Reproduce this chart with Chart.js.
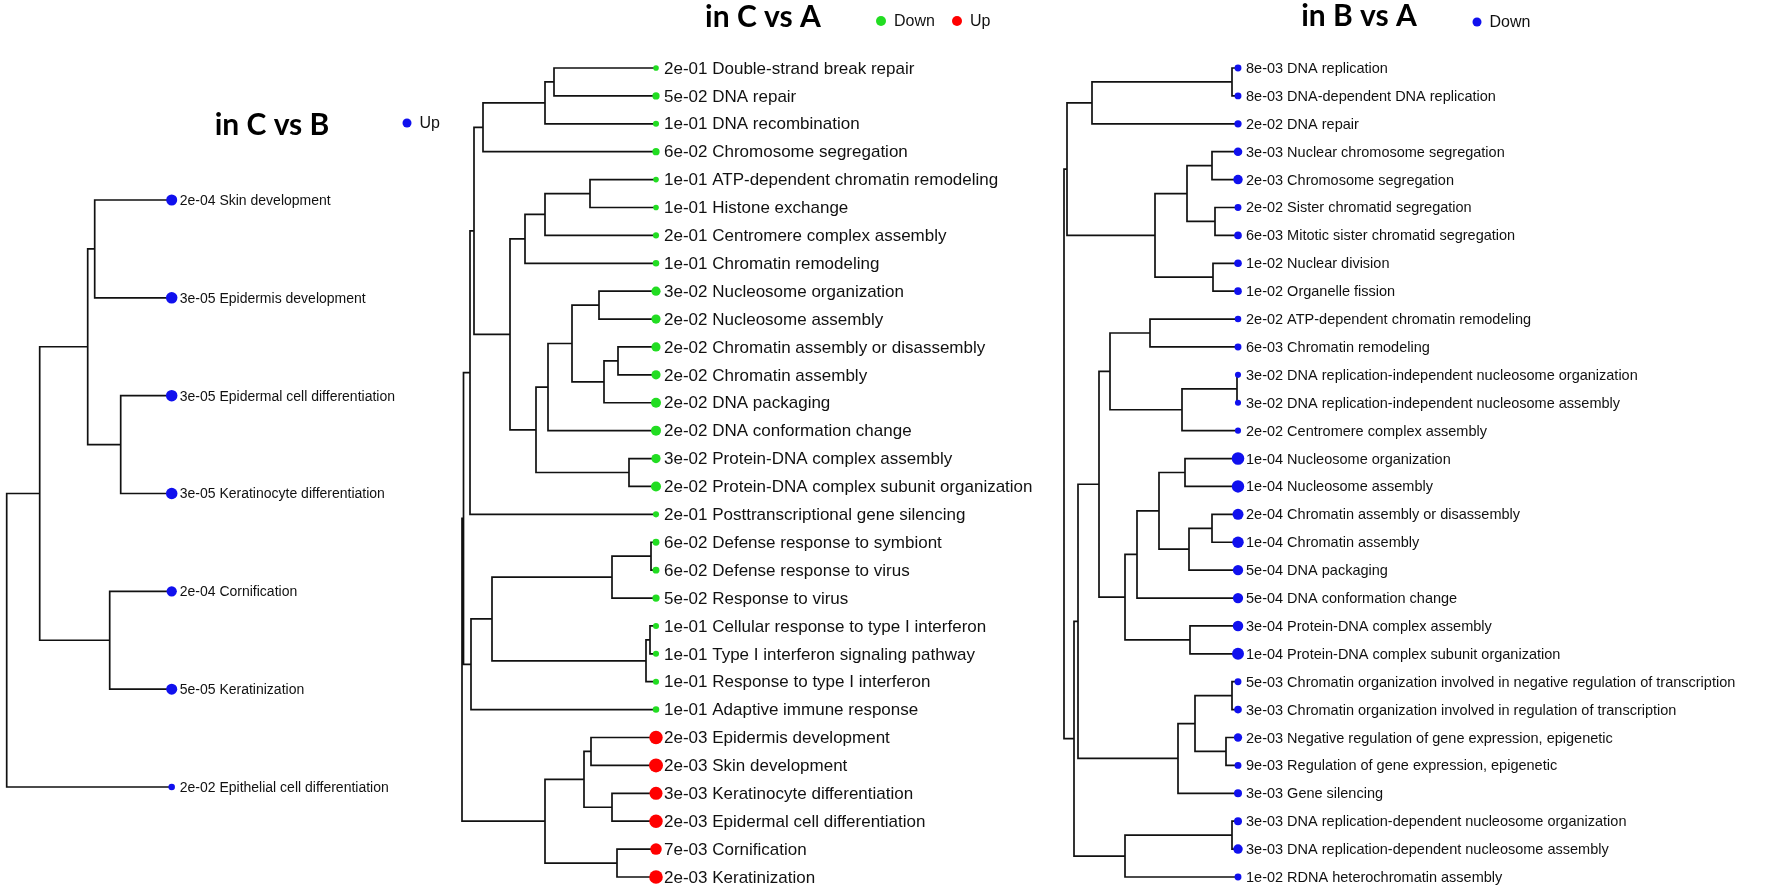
<!DOCTYPE html>
<html>
<head>
<meta charset="utf-8">
<script src="https://cdn.jsdelivr.net/npm/chart.js@4.4.1/dist/chart.umd.min.js"></script>
<style>
html,body{margin:0;padding:0;background:#fff;}
#wrap{position:relative;width:1768px;height:894px;overflow:hidden;background:#fff;}
canvas{position:absolute;top:0;}
</style>
</head>
<body>
<div id="wrap">
<canvas id="c1"></canvas>
<canvas id="c2"></canvas>
<canvas id="c3"></canvas>
</div>
<script>
// ---- in C vs B ----
const termsCB=["Skin development","Epidermis development","Epidermal cell differentiation","Keratinocyte differentiation","Cornification","Keratinization","Epithelial cell differentiation"];
const pvalCB=["2e-04","3e-05","3e-05","3e-05","2e-04","5e-05","2e-02"];
const dirCB=["Up","Up","Up","Up","Up","Up","Up"];
const genesCB=[23,25,25,25,20,23,8];
// hclust style merges: negative = leaf (1-based), positive = earlier merge; third value = height
const mergeCB=[[-1,-2,77],[-3,-4,51],[1,2,84],[-5,-6,62],[3,4,132],[5,-7,165]];

// ---- in C vs A ----
const termsCA=["Double-strand break repair","DNA repair","DNA recombination","Chromosome segregation",
"ATP-dependent chromatin remodeling","Histone exchange","Centromere complex assembly","Chromatin remodeling",
"Nucleosome organization","Nucleosome assembly","Chromatin assembly or disassembly","Chromatin assembly",
"DNA packaging","DNA conformation change","Protein-DNA complex assembly","Protein-DNA complex subunit organization",
"Posttranscriptional gene silencing","Defense response to symbiont","Defense response to virus","Response to virus",
"Cellular response to type I interferon","Type I interferon signaling pathway","Response to type I interferon","Adaptive immune response",
"Epidermis development","Skin development","Keratinocyte differentiation","Epidermal cell differentiation","Cornification","Keratinization"];
const pvalCA=["2e-01","5e-02","1e-01","6e-02","1e-01","1e-01","2e-01","1e-01","3e-02","2e-02","2e-02","2e-02","2e-02","2e-02","3e-02","2e-02",
"2e-01","6e-02","6e-02","5e-02","1e-01","1e-01","1e-01","1e-01","2e-03","2e-03","3e-03","2e-03","7e-03","2e-03"];
const dirCA=["Down","Down","Down","Down","Down","Down","Down","Down","Down","Down","Down","Down","Down","Down","Down","Down",
"Down","Down","Down","Down","Down","Down","Down","Down","Up","Up","Up","Up","Up","Up"];
const genesCA=[6,10,7,10,6,6,7,8,16,16,16,16,19,19,16,19,7,9,9,10,7,7,7,8,34,37,32,34,25,35];
const mergeCA=[[-1,-2,102],[1,-3,111],[2,-4,173],[-5,-6,66],[4,-7,111],[5,-8,131],[-9,-10,57],[-11,-12,38],[8,-13,52],
[7,9,84],[10,-14,108],[-15,-16,27],[11,12,120],[6,13,146],[3,14,182],[15,-17,186],[-18,-19,5],[17,-20,44],[-21,-22,6],
[19,-23,10],[18,20,164],[21,-24,185],[16,22,192.5],[-25,-26,65],[-27,-28,44],[24,25,72],[-29,-30,39],[26,27,111],[23,28,194]];

// ---- in B vs A ----
const termsBA=["DNA replication","DNA-dependent DNA replication","DNA repair","Nuclear chromosome segregation","Chromosome segregation",
"Sister chromatid segregation","Mitotic sister chromatid segregation","Nuclear division","Organelle fission",
"ATP-dependent chromatin remodeling","Chromatin remodeling","DNA replication-independent nucleosome organization",
"DNA replication-independent nucleosome assembly","Centromere complex assembly","Nucleosome organization","Nucleosome assembly",
"Chromatin assembly or disassembly","Chromatin assembly","DNA packaging","DNA conformation change","Protein-DNA complex assembly",
"Protein-DNA complex subunit organization","Chromatin organization involved in negative regulation of transcription",
"Chromatin organization involved in regulation of transcription","Negative regulation of gene expression, epigenetic",
"Regulation of gene expression, epigenetic","Gene silencing","DNA replication-dependent nucleosome organization",
"DNA replication-dependent nucleosome assembly","RDNA heterochromatin assembly"];
const pvalBA=["8e-03","8e-03","2e-02","3e-03","2e-03","2e-02","6e-03","1e-02","1e-02","2e-02","6e-03","3e-02","3e-02","2e-02",
"1e-04","1e-04","2e-04","1e-04","5e-04","5e-04","3e-04","1e-04","5e-03","3e-03","2e-03","9e-03","3e-03","3e-03","3e-03","1e-02"];
const dirBA=termsBA.map(()=>"Down");
const genesBA=[9,9,10,14,17,9,11,11,11,8,9,7,7,7,30,29,23,25,20,20,21,27,9,11,13,9,12,12,17,9];
const mergeBA=[[-1,-2,6],[1,-3,146],[-4,-5,26],[-6,-7,23],[3,4,51],[-8,-9,25],[5,6,83],[2,7,171],
[-10,-11,88],[-12,-13,1],[10,-14,56],[9,11,128],[-15,-16,53],[-17,-18,26],[14,-19,49],[13,15,79],[16,-20,101],
[-21,-22,48],[17,18,113],[12,19,139],[-23,-24,6],[-25,-26,12],[21,22,43],[23,-27,60],[20,24,160],
[-28,-29,6],[26,-30,113],[25,27,164],[8,28,174]];

const dotColors={Down:"#22dd22",Up:"#ff0000"};
const LBL='"Liberation Sans", Arial, sans-serif';
const H=894;

function treeSegments(merges){
  const nodes=[];
  const ref=k=>k<0?{x:0,y:-k-1}:nodes[k-1];
  const pts=[];
  merges.forEach(([a,b,h])=>{
    const A=ref(a),B=ref(b);
    pts.push({x:A.x,y:A.y},{x:h,y:A.y},{x:h,y:B.y},{x:B.x,y:B.y},{x:null,y:null});
    nodes.push({x:h,y:(A.y+B.y)/2});
  });
  return pts;
}

function panel(id,p){
  const cv=document.getElementById(id);
  cv.width=p.w;cv.height=H;cv.style.left=p.left+'px';
  const textPlugin={id:'panelText',afterDatasetsDraw(chart){
    const ctx=chart.ctx,xs=chart.scales.x,ys=chart.scales.y;
    ctx.save();
    ctx.fillStyle='#111';ctx.font=p.labelFont;ctx.textAlign='left';ctx.textBaseline='middle';
    const x0=xs.getPixelForValue(0)+p.gap;
    p.terms.forEach((t,i)=>ctx.fillText(p.pval[i]+' '+t,x0,ys.getPixelForValue(i)+1));
    ctx.fillStyle='#000';ctx.font='bold 30px Lato, "Open Sans", sans-serif';ctx.textAlign='center';ctx.textBaseline='alphabetic';
    ctx.fillText(p.title,p.titleX-p.left,p.titleY);
    ctx.font='16px '+LBL;ctx.textAlign='left';ctx.textBaseline='middle';
    p.legend.forEach(([name,x,y,r])=>{
      ctx.fillStyle=p.colors[name];ctx.beginPath();ctx.arc(x-p.left,y,r,0,Math.PI*2);ctx.fill();
      ctx.fillStyle='#111';ctx.fillText(name,x-p.left+r+8,y+1);
    });
    ctx.restore();
  }};
  new Chart(cv,{
    type:'scatter',
    data:{datasets:[
      {data:p.terms.map((t,i)=>({x:0,y:i})),pointRadius:p.genes.map(n=>Math.sqrt(n)*1.15),
       pointBackgroundColor:p.dir.map(d=>p.colors[d]),pointBorderWidth:0,pointHoverRadius:0,clip:false,order:0},
      {data:treeSegments(p.merge),showLine:true,spanGaps:false,borderColor:'#111',borderWidth:1.7,
       pointRadius:0,pointHoverRadius:0,tension:0,clip:false,order:1}
    ]},
    options:{
      responsive:false,animation:false,events:[],devicePixelRatio:1,
      layout:{padding:{left:p.rootX-p.left,right:p.left+p.w-p.leafX,top:p.top,bottom:H-p.bottom}},
      scales:{
        x:{type:'linear',reverse:true,min:0,max:p.merge[p.merge.length-1][2],display:false},
        y:{type:'linear',reverse:true,min:0,max:p.terms.length-1,display:false}
      },
      plugins:{legend:{display:false},tooltip:{enabled:false}}
    },
    plugins:[textPlugin]
  });
}

panel('c1',{terms:termsCB,pval:pvalCB,dir:dirCB,genes:genesCB,merge:mergeCB,colors:{Up:"#1010ee"},
  left:0,w:460,rootX:6.7,leafX:171.7,top:200,bottom:787,gap:8,labelFont:'14px '+LBL,
  title:'in C vs B',titleX:272,titleY:135,legend:[["Up",407,123,4.5]]});
panel('c2',{terms:termsCA,pval:pvalCA,dir:dirCA,genes:genesCA,merge:mergeCA,colors:dotColors,
  left:452,w:610,rootX:462,leafX:656,top:68,bottom:877,gap:8,labelFont:'17px '+LBL,
  title:'in C vs A',titleX:763,titleY:27,legend:[["Down",881,21,5],["Up",957,21,5]]});
panel('c3',{terms:termsBA,pval:pvalBA,dir:dirBA,genes:genesBA,merge:mergeBA,colors:{Down:"#1010ee"},
  left:1052,w:716,rootX:1064,leafX:1238,top:68,bottom:877,gap:8,labelFont:'14.5px '+LBL,
  title:'in B vs A',titleX:1359,titleY:26,legend:[["Down",1477,22,4.5]]});
</script>
</body>
</html>
